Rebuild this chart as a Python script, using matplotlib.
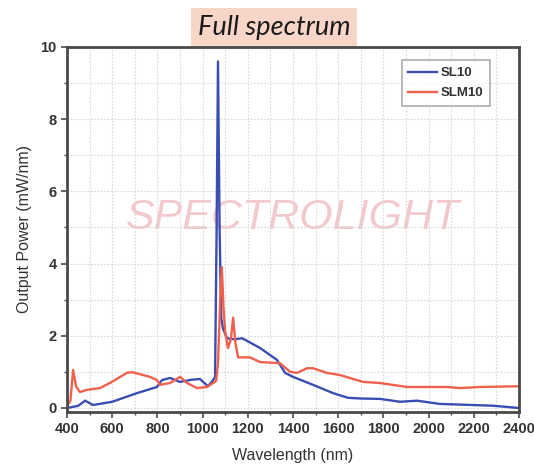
import matplotlib
matplotlib.use("Agg")
import matplotlib.pyplot as plt
from matplotlib.ticker import MultipleLocator

# SL10 (blue)
sl10_x = [400, 420, 450, 480, 515, 600, 710, 798, 820, 856, 900, 950, 988, 1024, 1046, 1055,
          1062, 1068, 1075, 1082, 1090, 1108, 1140, 1175, 1254, 1329, 1365, 1400, 1488, 1577,
          1643, 1700, 1785, 1873, 1949, 2050, 2196, 2285, 2395, 2400]
sl10_y = [0.0, 0.02, 0.06, 0.2, 0.08, 0.17, 0.41, 0.58, 0.77, 0.83, 0.72, 0.78, 0.8, 0.6, 0.77, 0.85,
          5.0, 9.6, 5.0, 2.5, 2.2, 1.93, 1.9, 1.93, 1.66, 1.33, 0.97, 0.86, 0.64, 0.41,
          0.28, 0.26, 0.25, 0.17, 0.2, 0.11, 0.08, 0.06, 0.0, 0.0]

# SLM10 (red)
slm10_x = [400, 415, 427, 440, 457, 488, 546, 590, 665, 688, 767, 798, 811, 856, 900, 931, 975,
           1019, 1046, 1060, 1068, 1078, 1085, 1092, 1100, 1112, 1125, 1135, 1145, 1157, 1210,
           1254, 1342, 1387, 1418, 1462, 1488, 1550, 1608, 1710, 1785, 1904, 2081, 2139, 2227, 2400]
slm10_y = [0.05, 0.2, 1.05, 0.6, 0.44, 0.5, 0.55, 0.69, 0.97, 0.99, 0.86, 0.77, 0.64, 0.69, 0.86, 0.69, 0.55,
           0.58, 0.69, 0.75, 1.24, 3.0, 3.9, 2.8, 2.1, 1.66, 1.9, 2.5, 1.8, 1.4, 1.4,
           1.27, 1.24, 1.0, 0.97, 1.1, 1.1, 0.97, 0.91, 0.72, 0.69, 0.58, 0.58, 0.55, 0.58, 0.6]

xticks = [400, 600, 800, 1000, 1200, 1400, 1600, 1800, 2000, 2200, 2400]
yticks = [0, 2, 4, 6, 8, 10]

plt.rcParams['font.family'] = ['Liberation Sans', 'DejaVu Sans']
fig = plt.figure(figsize=(5.34, 4.68), dpi=100)
ax = fig.add_axes([0.1255, 0.1207, 0.8465, 0.7789])

ax.plot(sl10_x, sl10_y, color='#3a4db3', lw=1.7, label='SL10')
ax.plot(slm10_x, slm10_y, color='#f0604c', lw=1.7, label='SLM10')

ax.set_xlim(400, 2400)
ax.set_ylim(-0.1, 10)
ax.set_xticks(xticks)
ax.set_yticks(yticks)
ax.xaxis.set_minor_locator(MultipleLocator(100))
ax.yaxis.set_minor_locator(MultipleLocator(1))
ax.grid(which='both', color='#d8d8d8', ls=(0, (1.5, 1.5)), lw=0.8)
ax.set_axisbelow(True)
for s in ax.spines.values():
    s.set_color('#4a4a4a')
    s.set_linewidth(2)
ax.tick_params(which='major', direction='out', length=4, width=1.2, color='#4a4a4a',
               labelsize=10.5, labelcolor='#333333')
ax.tick_params(which='minor', direction='out', length=2.5, width=1, color='#4a4a4a')
for lab in ax.get_xticklabels() + ax.get_yticklabels():
    lab.set_fontweight('bold')

ax.set_xlabel('Wavelength (nm)', fontsize=11.5, color='#333333', labelpad=9)
ax.set_ylabel('Output Power (mW/nm)', fontsize=11.5, color='#333333', labelpad=6)

leg = ax.legend(loc='upper right', bbox_to_anchor=(0.935, 0.963), fontsize=9.5, frameon=True,
                fancybox=False, edgecolor='#999999', handlelength=2.2, borderpad=0.5,
                labelspacing=0.6, handletextpad=0.25, borderaxespad=0)
leg.get_frame().set_linewidth(1.2)
for t in leg.get_texts():
    t.set_color('#333333')
    t.set_fontweight('bold')

ax.text(0.5, 0.53, 'SPECTROLIGHT', transform=ax.transAxes, ha='center', va='center',
        fontsize=31, style='italic', color='#f2c0c5', alpha=0.85, zorder=0.5)

fig.text(274 / 534, 1 - 27 / 468, 'Full spectrum', ha='center', va='center',
         fontsize=19.5, style='italic', family=['Lato', 'DejaVu Sans'], color='#1a1a1a',
         bbox=dict(boxstyle='square,pad=0.25', facecolor='#f7d6c8', edgecolor='none'))

fig.savefig('out.png', dpi=100)
